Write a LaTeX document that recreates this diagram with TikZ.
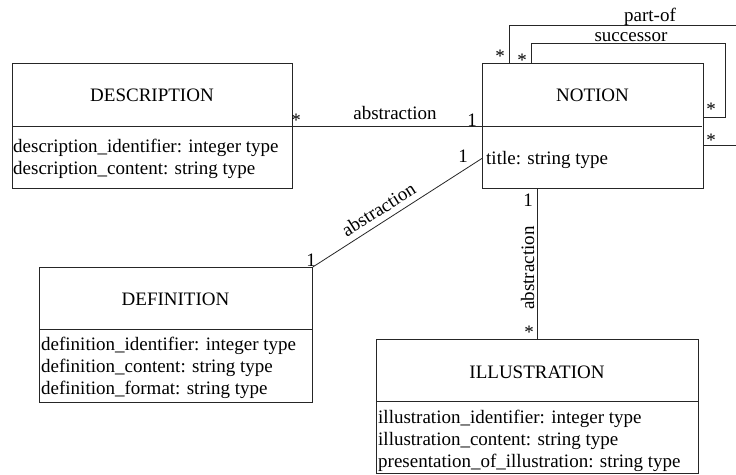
\documentclass[tikz,border=0pt]{standalone}
\usepackage{fontspec}
\setmainfont{Liberation Serif}
\begin{document}
\begin{tikzpicture}[x=1pt,y=-1pt,
  every node/.style={font=\fontsize{19}{22}\selectfont, inner sep=0pt},
  classbox/.style={draw=black!85, line width=0.8pt, anchor=north west, minimum width=#1},
  conn/.style={draw=black!85, line width=0.8pt},
  lab/.style={anchor=base},
  attrs/.style={anchor=base west, align=left}]
\clip (0,0) rectangle (736,474);
\useasboundingbox (0,0) rectangle (736,474);
\fill[white] (0,0) rectangle (736,474);

% classes
\node[classbox=280pt, minimum height=125pt] (desc) at (12,63) {};
\draw[conn] (12,126) -- (292,126);
\node[lab] (desc-t) at (152,101) {DESCRIPTION};
\node[attrs] (desc-a) at (13,152) {\begin{tabular}[t]{@{}l@{}}description\_identifier: integer type\\description\_content: string type\end{tabular}};

\node[classbox=221pt, minimum height=125pt] (notion) at (482,63) {};
\draw[conn] (482,126) -- (702,126);
\node[lab] (notion-t) at (592.5,101) {NOTION};
\node[attrs] (notion-a) at (486,164) {title: string type};

\node[classbox=273pt, minimum height=135pt] (def) at (39,267) {};
\draw[conn] (39,329) -- (312,329);
\node[lab] (def-t) at (175.5,305) {DEFINITION};
\node[attrs] (def-a) at (41,350) {\begin{tabular}[t]{@{}l@{}}definition\_identifier: integer type\\definition\_content: string type\\definition\_format: string type\end{tabular}};

\node[classbox=322pt, minimum height=134pt] (ill) at (376,339) {};
\draw[conn] (376,401) -- (698,401);
\node[lab] (ill-t) at (537,378) {ILLUSTRATION};
\node[attrs] (ill-a) at (378,423) {\begin{tabular}[t]{@{}l@{}}illustration\_identifier: integer type\\illustration\_content: string type\\presentation\_of\_illustration: string type\end{tabular}};

% connectors
\draw[conn] (desc.east) -- (notion.west);
\draw[conn] (def.north east) -- ([yshift=-32.5pt]notion.west);
\draw[conn] (ill.north) -- (ill.north |- notion.south);
\draw[conn] ([xshift=49pt]notion.north west) |- (725,43) |- ([yshift=8.5pt]notion.east);
\draw[conn] ([xshift=27pt]notion.north west) |- (745,25) |- ([yshift=-19.5pt]notion.east);

% labels
\node[lab] (m1) at (296,126) {*};
\node[lab] (m2) at (472,126) {1};
\node[lab] (l1) at (395,119) {abstraction};
\node[lab] (m3) at (463,162) {1};
\node[lab] (m4) at (311,266) {1};
\node[lab, rotate=32.4] (l2) at (382,215) {abstraction};
\node[lab] (m5) at (528,206) {1};
\node[lab] (m6) at (529,338) {*};
\node[lab, rotate=90] (l3) at (534,268) {abstraction};
\node[lab] (m7) at (500,62) {*};
\node[lab] (m8) at (522,66) {*};
\node[lab] (m9) at (711,115) {*};
\node[lab] (m10) at (711,146) {*};
\node[lab] (l4) at (650,21) {part-of};
\node[lab] (l5) at (631,41) {successor};
\end{tikzpicture}
\end{document}
